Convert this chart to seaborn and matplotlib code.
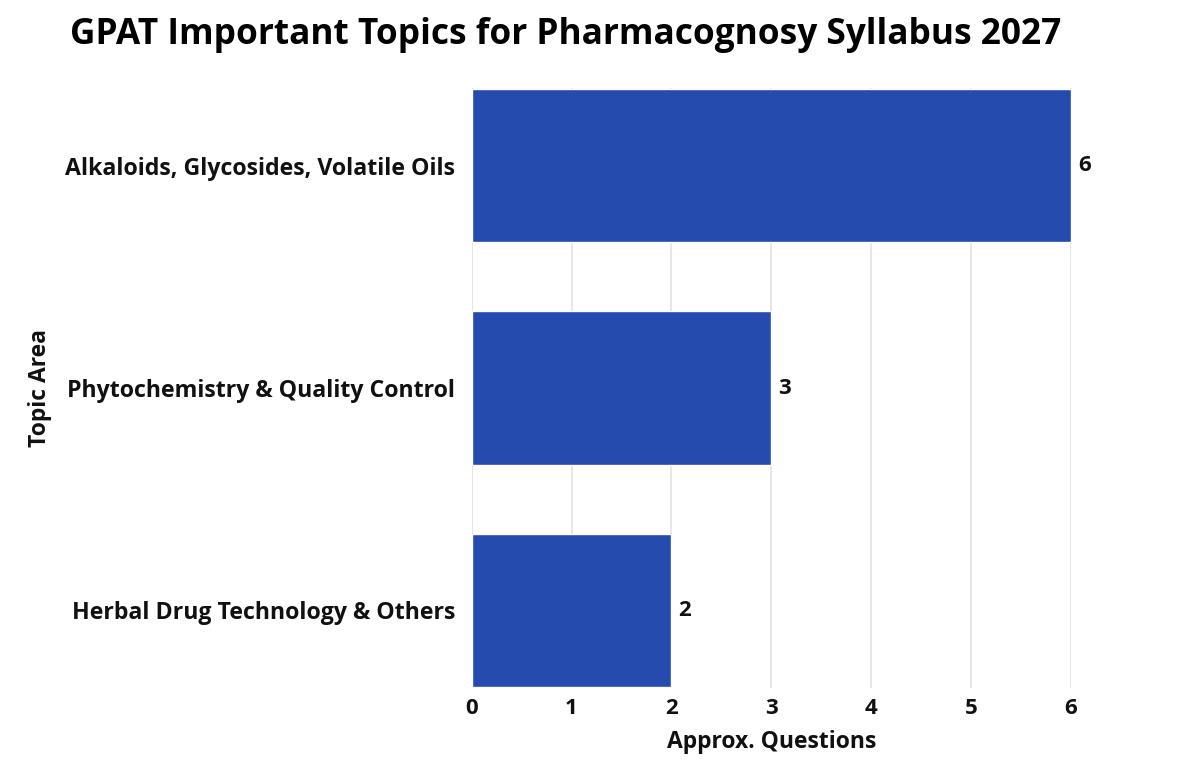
import matplotlib
matplotlib.use("Agg")
import matplotlib.pyplot as plt
import seaborn as sns
import pandas as pd

topics = ["Alkaloids, Glycosides, Volatile Oils",
          "Phytochemistry & Quality Control",
          "Herbal Drug Technology & Others"]
questions = [6, 3, 2]
x_ticks = [0, 1, 2, 3, 4, 5, 6]

sns.set_theme(style="white")
plt.rcParams['font.family'] = ['Open Sans', 'DejaVu Sans']

df = pd.DataFrame({"Topic Area": topics, "Approx. Questions": questions})

fig = plt.figure(figsize=(12, 7.84), dpi=100)
ax = fig.add_axes([0.393, 0.1224, 0.4995, 0.7654])

sns.barplot(data=df, x="Approx. Questions", y="Topic Area", color="#244BAD",
            saturation=1, width=0.69, ax=ax, zorder=3)

for p, v in zip(ax.patches, questions):
    ax.text(p.get_width() + 0.07, p.get_y() + p.get_height() / 2, str(v),
            va="center", ha="left", fontsize=16, fontweight="bold", color="#111111")

ax.set_xlim(0, 6)
ax.set_ylim(2.35, -0.35)
ax.set_xticks(x_ticks)
ax.set_xticklabels([str(t) for t in x_ticks], fontsize=16, fontweight="bold", color="#111111")
for lab in ax.get_yticklabels():
    lab.set_fontsize(16.7)
    lab.set_fontweight("bold")
    lab.set_color("#111111")
ax.tick_params(axis="y", length=0, pad=12)
ax.tick_params(axis="x", length=0, pad=7)
ax.xaxis.grid(True, color="#E3E3E3", linewidth=1.2, zorder=0)
ax.yaxis.grid(False)
for s in ax.spines.values():
    s.set_visible(False)

ax.set_xlabel("Approx. Questions", fontsize=16.5, fontweight="bold", color="#111111", labelpad=8)
ax.set_ylabel("Topic Area", fontsize=16.5, fontweight="bold", color="#111111")
ax.yaxis.set_label_coords(-0.70, 0.5)

fig.suptitle("GPAT Important Topics for Pharmacognosy Syllabus 2027", x=0.4717, y=0.978,
             fontsize=25.4, fontweight="bold", color="#000000")

fig.savefig("out.png", dpi=100)
